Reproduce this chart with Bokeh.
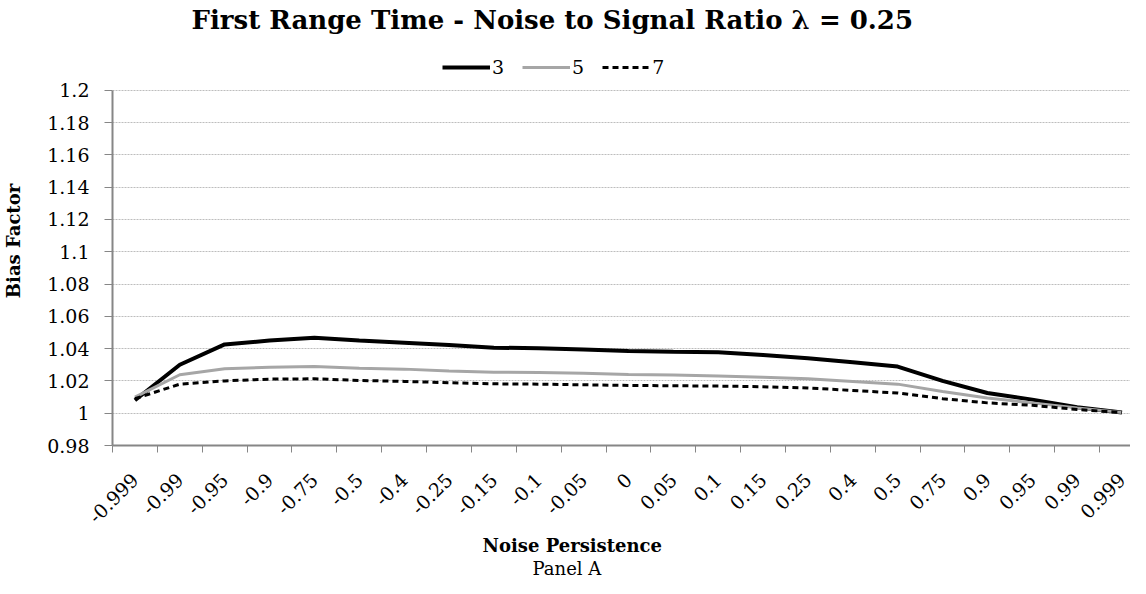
import math
from bokeh.plotting import figure
from bokeh.models import (Range1d, FixedTicker, Legend, LegendItem, Title)
from bokeh.embed import file_html
from bokeh.resources import INLINE

categories = ["-0.999", "-0.99", "-0.95", "-0.9", "-0.75", "-0.5", "-0.4", "-0.25",
              "-0.15", "-0.1", "-0.05", "0", "0.05", "0.1", "0.15", "0.25", "0.4",
              "0.5", "0.75", "0.9", "0.95", "0.99", "0.999"]

series_3 = [1.008, 1.030, 1.0426, 1.045, 1.0467, 1.045, 1.0436, 1.0422, 1.0406, 1.0402,
            1.0395, 1.0385, 1.038, 1.0377, 1.036, 1.034, 1.0316, 1.0289, 1.020, 1.0125,
            1.0084, 1.0037, 1.0004]
series_5 = [1.010, 1.0238, 1.0275, 1.0285, 1.0289, 1.0279, 1.0273, 1.0262, 1.0254, 1.0252,
            1.0248, 1.024, 1.0236, 1.023, 1.0223, 1.0213, 1.0197, 1.018, 1.0135, 1.0094,
            1.0064, 1.0033, 1.0004]
series_7 = [1.009, 1.018, 1.020, 1.0211, 1.0213, 1.0203, 1.0197, 1.0189, 1.0182, 1.018,
            1.0176, 1.0172, 1.017, 1.0168, 1.0164, 1.0156, 1.0141, 1.0125, 1.009, 1.0064,
            1.0049, 1.0023, 1.0004]

series_names = ["3", "5", "7"]
y_ticks = [0.98, 1.0, 1.02, 1.04, 1.06, 1.08, 1.1, 1.12, 1.14, 1.16, 1.18, 1.2]
y_tick_labels = ["0.98", "1", "1.02", "1.04", "1.06", "1.08", "1.1", "1.12", "1.14",
                 "1.16", "1.18", "1.2"]

title_text = "First Range Time - Noise to Signal Ratio \u03bb = 0.25"
x_title = "Noise Persistence"
y_title = "Bias Factor"
panel_text = "Panel A"

SERIF = "DejaVu Serif"
AXIS_GRAY = "#868686"

xs = list(range(len(categories)))
y_min, y_max = y_ticks[0], y_ticks[-1]

# frame extends above the top tick so the legend can sit over the plot area
p = figure(width=1130, height=578, output_backend="svg", toolbar_location=None,
           x_range=Range1d(-0.5, 22.19), y_range=Range1d(y_min, y_max + 0.0333),
           min_border_left=109, min_border_right=0, min_border_top=35,
           min_border_bottom=132)
p.outline_line_color = None
p.background_fill_color = "white"
p.border_fill_color = "white"

# title
p.title.text = title_text
p.title.text_font = SERIF
p.title.text_font_size = "26px"
p.title.text_font_style = "bold"
p.title.text_color = "black"
p.title.align = "left"
p.title.offset = 79
p.title.standoff = 4

# grid
p.xgrid.grid_line_color = None
p.ygrid.ticker = FixedTicker(ticks=y_ticks)
p.ygrid.grid_line_color = "#bdbdbd"
p.ygrid.grid_line_dash = "2 1"
p.ygrid.grid_line_width = 1

# y axis
p.yaxis.ticker = FixedTicker(ticks=y_ticks)
p.yaxis.bounds = (y_min, y_max)
p.yaxis.major_label_overrides = {t: l for t, l in zip(y_ticks, y_tick_labels)}
p.yaxis.axis_line_color = AXIS_GRAY
p.yaxis.axis_line_width = 2
p.yaxis.major_tick_line_color = AXIS_GRAY
p.yaxis.major_tick_out = 8
p.yaxis.major_tick_in = 0
p.yaxis.minor_tick_line_color = None
p.yaxis.major_label_text_font = SERIF
p.yaxis.major_label_text_font_size = "19px"
p.yaxis.major_label_text_color = "black"
p.yaxis.major_label_standoff = 15
p.yaxis.axis_label = y_title
p.yaxis.axis_label_text_font = SERIF
p.yaxis.axis_label_text_font_size = "18px"
p.yaxis.axis_label_text_font_style = "bold"
p.yaxis.axis_label_text_color = "black"
p.yaxis.axis_label_standoff = 20

# x axis
boundaries = [i - 0.5 for i in range(len(categories) + 1)]
p.xaxis.ticker = FixedTicker(ticks=xs, minor_ticks=boundaries)
p.xaxis.major_label_overrides = {i: c for i, c in zip(xs, categories)}
p.xaxis.major_label_orientation = math.pi / 4
p.xaxis.axis_line_color = AXIS_GRAY
p.xaxis.axis_line_width = 2
p.xaxis.major_tick_line_color = None
p.xaxis.major_tick_out = 0
p.xaxis.major_tick_in = 0
p.xaxis.minor_tick_line_color = AXIS_GRAY
p.xaxis.minor_tick_out = 7
p.xaxis.minor_tick_in = 0
p.xaxis.major_label_text_font = SERIF
p.xaxis.major_label_text_font_size = "19px"
p.xaxis.major_label_text_color = "black"
p.xaxis.major_label_standoff = 24

x_title_obj = Title(text=x_title, align="left", offset=370, text_font=SERIF,
                    text_font_size="18px", text_font_style="bold", text_color="black",
                    standoff=0)
p.add_layout(x_title_obj, "below")
panel_title = Title(text=panel_text, align="left", offset=420, text_font=SERIF,
                    text_font_size="18px", text_font_style="normal", text_color="black",
                    standoff=0)
p.add_layout(panel_title, "below")

# lines
r3 = p.line(xs, series_3, line_color="black", line_width=4)
r5 = p.line(xs, series_5, line_color="#a6a6a6", line_width=3)
r7 = p.line(xs, series_7, line_color="black", line_width=3, line_dash="6 4")

legend = Legend(items=[LegendItem(label=series_names[0], renderers=[r3]),
                       LegendItem(label=series_names[1], renderers=[r5]),
                       LegendItem(label=series_names[2], renderers=[r7])],
                orientation="horizontal", location=(330, 367),
                border_line_color=None, background_fill_alpha=0,
                label_text_font=SERIF, label_text_font_size="19px",
                label_text_color="black",
                glyph_width=48, glyph_height=18, label_standoff=2, spacing=18,
                label_width=0, padding=0, margin=0)
p.add_layout(legend, "center")

open("out.html", "w").write(file_html(p, INLINE))
